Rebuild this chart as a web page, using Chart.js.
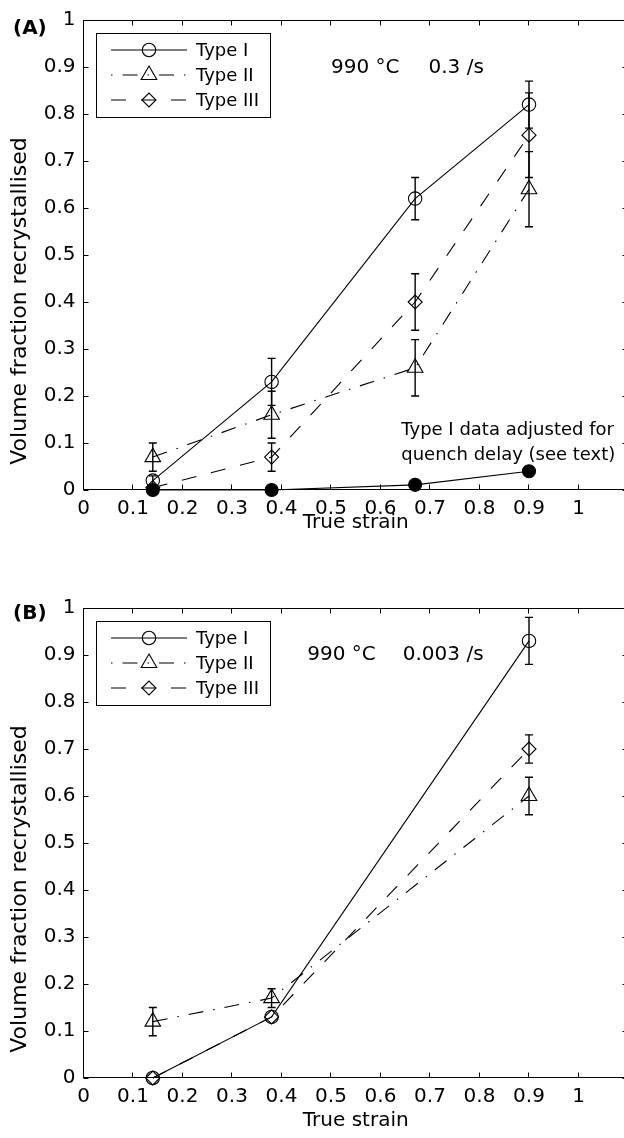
<!DOCTYPE html>
<html><head><meta charset="utf-8">
<script src="https://cdn.jsdelivr.net/npm/chart.js@4.4.1/dist/chart.umd.min.js"></script>
<style>
html,body{margin:0;padding:0;background:#fff;width:624px;height:1138px;overflow:hidden;position:relative;}
.wrap{position:absolute;left:0;width:640px;height:569px;}
canvas{display:block;}
</style></head><body>
<div class="wrap" style="top:0"><canvas id="cA" width="640" height="569"></canvas></div>
<div class="wrap" style="top:569px"><canvas id="cB" width="640" height="569"></canvas></div>
<script>
// ---------- data ----------
const strainA = [0.14, 0.38, 0.67, 0.90];
const typeIA = [0.02, 0.23, 0.62, 0.82];
const typeIA_err = [0.01, 0.05, 0.045, 0.05];
const typeIIA = [0.07, 0.16, 0.26, 0.64];
const typeIIA_err = [0.03, 0.05, 0.06, 0.08];
const typeIIIA = [0.005, 0.07, 0.40, 0.755];
const typeIIIA_err = [0, 0.03, 0.06, 0.09];
const adjustedA = [0, 0, 0.011, 0.04];

const strainB = [0.14, 0.38, 0.90];
const typeIB = [0, 0.13, 0.93];
const typeIB_err = [0, 0, 0.05];
const typeIIB = [0.12, 0.17, 0.60];
const typeIIB_err = [0.03, 0.02, 0.04];
const typeIIIB = [0, 0.13, 0.70];
const typeIIIB_err = [0, 0, 0.03];

const xTicks = [0, 0.1, 0.2, 0.3, 0.4, 0.5, 0.6, 0.7, 0.8, 0.9, 1];
const yTicks = [0, 0.1, 0.2, 0.3, 0.4, 0.5, 0.6, 0.7, 0.8, 0.9, 1];
const seriesNames = ['Type I', 'Type II', 'Type III'];
const xTitle = 'True strain';
const yTitle = 'Volume fraction recrystallised';

// ---------- styles ----------
const FONT = "'DejaVu Sans', sans-serif";
const styles = [
  {borderDash: [], legendDash: [], pointStyle: 'circle', pointRadius: 6.7},
  {borderDash: [15, 10, 1.5, 10], legendDash: [1.5, 10, 15, 10], pointStyle: 'triangle', pointRadius: 9},
  {borderDash: [15, 15], legendDash: [15, 15], pointStyle: 'rectRot', pointRadius: 7}
];

function pts(xs, ys) { return xs.map((x, i) => ({x: x, y: ys[i]})); }

function seriesDs(i, xs, ys, err) {
  return Object.assign({
    label: seriesNames[i], data: pts(xs, ys), err: err,
    borderColor: '#000', borderWidth: 1.1, tension: 0, clip: false,
    pointBorderColor: '#000', pointBackgroundColor: 'rgba(0,0,0,0)', pointBorderWidth: 1.1,
    pointHoverRadius: 0
  }, styles[i]);
}

function drawMarker(ctx, style, r, x, y) {
  ctx.beginPath();
  if (style === 'circle') {
    ctx.arc(x, y, r, 0, Math.PI * 2);
  } else if (style === 'triangle') {
    ctx.moveTo(x, y - r);
    ctx.lineTo(x + r * Math.sin(2 * Math.PI / 3), y - r * Math.cos(2 * Math.PI / 3));
    ctx.lineTo(x + r * Math.sin(4 * Math.PI / 3), y - r * Math.cos(4 * Math.PI / 3));
    ctx.closePath();
  } else {
    ctx.moveTo(x - r, y); ctx.lineTo(x, y - r); ctx.lineTo(x + r, y); ctx.lineTo(x, y + r);
    ctx.closePath();
  }
  ctx.stroke();
}

const framePlugin = {
  id: 'frame',
  afterDatasetsDraw(chart) {
    const ctx = chart.ctx, xs = chart.scales.x, ys = chart.scales.y;
    ctx.save();
    ctx.strokeStyle = '#000'; ctx.lineWidth = 1.4; ctx.setLineDash([]);
    chart.data.datasets.forEach(ds => {
      if (!ds.err) return;
      ds.data.forEach((p, i) => {
        const e = ds.err[i];
        if (!e) return;
        const px = xs.getPixelForValue(p.x);
        const y1 = ys.getPixelForValue(p.y + e), y2 = ys.getPixelForValue(p.y - e);
        ctx.beginPath();
        ctx.moveTo(px, y1); ctx.lineTo(px, y2);
        ctx.moveTo(px - 4, y1); ctx.lineTo(px + 4, y1);
        ctx.moveTo(px - 4, y2); ctx.lineTo(px + 4, y2);
        ctx.stroke();
      });
    });
    ctx.restore();
  },
  afterDraw(chart, args, o) {
    const ctx = chart.ctx, a = chart.chartArea, xs = chart.scales.x, ys = chart.scales.y;
    ctx.save();
    ctx.strokeStyle = '#000'; ctx.lineWidth = 1; ctx.setLineDash([]);
    const L = Math.round(a.left) - 0.5, R = Math.round(a.right) - 0.5, T = Math.round(a.top) + 0.5, B = Math.round(a.bottom) - 0.5;
    ctx.strokeRect(L, T, R - L, B - T);
    ctx.beginPath();
    xTicks.forEach(v => {
      const px = Math.round(xs.getPixelForValue(v)) - 0.5;
      ctx.moveTo(px, B); ctx.lineTo(px, B - 5);
      ctx.moveTo(px, T); ctx.lineTo(px, T + 5);
    });
    yTicks.forEach(v => {
      const py = Math.round(ys.getPixelForValue(v)) + 0.5;
      ctx.moveTo(L, py); ctx.lineTo(L + 5, py);
      ctx.moveTo(R, py); ctx.lineTo(R - 5, py);
    });
    ctx.stroke();

    // y axis title
    ctx.save();
    ctx.fillStyle = '#000';
    ctx.font = o.yTitleSize + 'px ' + FONT;
    ctx.textAlign = 'center'; ctx.textBaseline = 'middle';
    ctx.translate(20, a.top + o.yTitleOffset);
    ctx.rotate(-Math.PI / 2);
    ctx.fillText(yTitle, 0, 0);
    ctx.restore();

    // legend
    const bx = 96.5, by = Math.round(a.top) + 13.5, bw = 174, bh = 84;
    ctx.fillStyle = '#fff';
    ctx.fillRect(bx, by, bw, bh);
    ctx.strokeRect(bx, by, bw, bh);
    ctx.font = '18px ' + FONT;
    ctx.textBaseline = 'middle'; ctx.textAlign = 'left';
    for (let i = 0; i < 3; i++) {
      const ds = chart.data.datasets[i];
      const yy = by + 16.5 + i * 25;
      ctx.lineWidth = 1.1;
      ctx.setLineDash(ds.legendDash);
      ctx.beginPath(); ctx.moveTo(111, yy); ctx.lineTo(187, yy); ctx.stroke();
      ctx.setLineDash([]);
      drawMarker(ctx, ds.pointStyle, ds.pointRadius, 149, yy);
      ctx.fillStyle = '#000';
      ctx.fillText(ds.label, 196, yy + 1);
    }

    // texts
    ctx.fillStyle = '#000';
    (o.texts || []).forEach(t => {
      ctx.font = (t.bold ? 'bold ' : '') + t.size + 'px ' + FONT;
      ctx.textAlign = 'left'; ctx.textBaseline = 'middle';
      const x = t.px !== undefined ? t.px : xs.getPixelForValue(t.x);
      const y = t.py !== undefined ? a.top + t.py : ys.getPixelForValue(t.y);
      ctx.fillText(t.text, x, y);
    });
    ctx.restore();
  }
};

function makeChart(id, datasets, padTop, xAxisH, texts) {
  const font = {family: FONT, size: 20};
  const padBottom = 569 - padTop - 470 - xAxisH;
  return new Chart(document.getElementById(id), {
    type: 'line',
    data: {datasets: datasets},
    options: {
      responsive: false, animation: false, devicePixelRatio: 1,
      layout: {padding: {left: 0, right: 12, top: padTop, bottom: padBottom}, autoPadding: false},
      plugins: {legend: {display: false}, tooltip: {enabled: false},
                frame: {texts: texts, yTitleSize: 22, yTitleOffset: 281}},
      scales: {
        x: {
          type: 'linear', min: 0, max: 1.1,
          afterBuildTicks: s => { s.ticks = xTicks.map(v => ({value: v})); },
          afterFit: s => { s.height = xAxisH; },
          ticks: {callback: v => String(v), font: font, color: '#000', padding: 7, maxRotation: 0, autoSkip: false},
          grid: {display: false, drawTicks: false}, border: {display: false},
          title: {display: true, text: xTitle, font: font, color: '#000', padding: {top: 0, bottom: 0}}
        },
        y: {
          type: 'linear', min: 0, max: 1,
          afterBuildTicks: s => { s.ticks = yTicks.map(v => ({value: v})); },
          afterFit: s => { s.width = 83.5; },
          ticks: {callback: v => String(v), font: font, color: '#000', padding: 8, autoSkip: false},
          grid: {display: false, drawTicks: false}, border: {display: false},
          title: {display: false, text: yTitle}
        }
      }
    },
    plugins: [framePlugin]
  });
}

makeChart('cA', [
  seriesDs(0, strainA, typeIA, typeIA_err),
  seriesDs(1, strainA, typeIIA, typeIIA_err),
  seriesDs(2, strainA, typeIIIA, typeIIIA_err),
  {label: 'Type I adjusted', data: pts(strainA, adjustedA), borderColor: '#000', borderWidth: 1.1, clip: false,
   pointStyle: 'circle', pointRadius: 6.5, pointBackgroundColor: '#000', pointBorderColor: '#000', pointHoverRadius: 0}
], 20, 45, [
  {text: '(A)', bold: true, size: 20, px: 13, py: 9},
  {text: '990 °C', size: 20, x: 0.5, y: 0.898},
  {text: '0.3 /s', size: 20, x: 0.697, y: 0.898},
  {text: 'Type I data adjusted for', size: 18, x: 0.642, y: 0.128},
  {text: 'quench delay (see text)', size: 18, x: 0.642, y: 0.074}
]);

makeChart('cB', [
  seriesDs(0, strainB, typeIB, typeIB_err),
  seriesDs(1, strainB, typeIIB, typeIIB_err),
  seriesDs(2, strainB, typeIIIB, typeIIIB_err)
], 39, 55, [
  {text: '(B)', bold: true, size: 20, px: 13, py: 6},
  {text: '990 °C', size: 20, x: 0.452, y: 0.9},
  {text: '0.003 /s', size: 20, x: 0.645, y: 0.9}
]);
</script>
</body></html>
